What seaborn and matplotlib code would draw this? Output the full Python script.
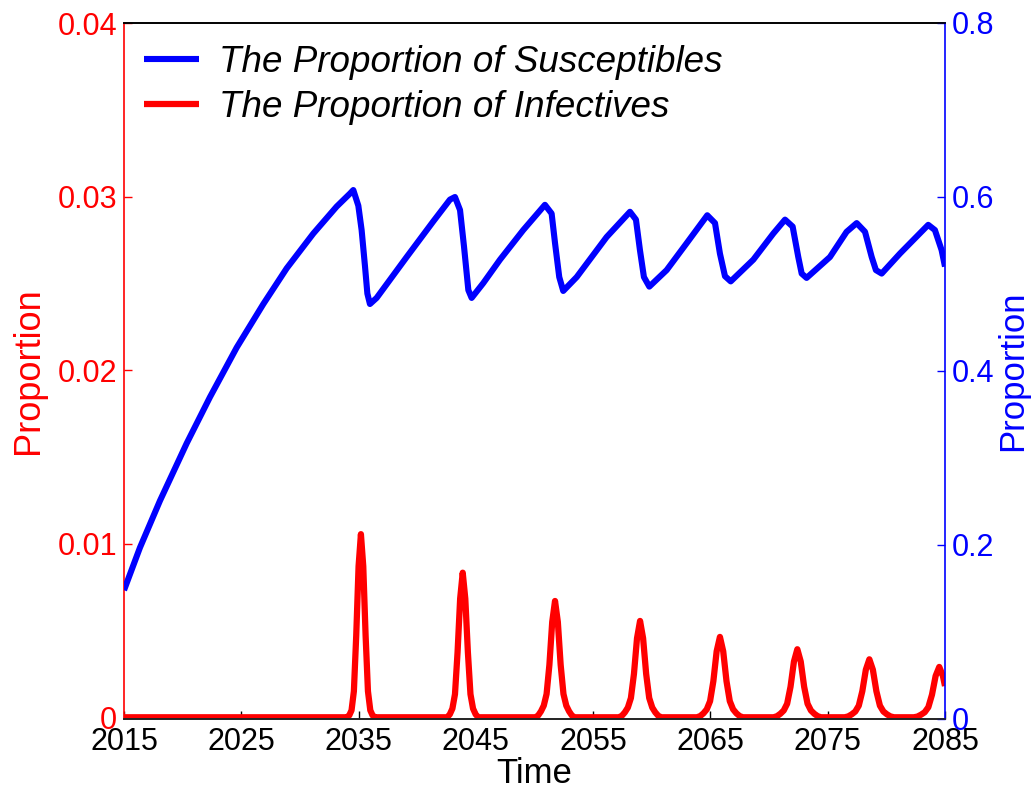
import matplotlib
matplotlib.use("Agg")
import matplotlib.pyplot as plt
from matplotlib import font_manager
import seaborn as sns
import pandas as pd

# ---------------- data ----------------
sus_t = [2015.0, 2016.36, 2018.07, 2020.35, 2022.33, 2024.61, 2026.88, 2028.87, 2031.14, 2033.13,
         2034.27, 2034.55, 2034.98, 2035.26, 2035.55, 2035.75, 2035.97, 2036.54, 2039.1, 2041.37,
         2042.79, 2043.22, 2043.65, 2043.99, 2044.36, 2044.64, 2045.63, 2047.06, 2049.04, 2050.89,
         2051.46, 2051.75, 2052.11, 2052.45, 2053.6, 2056.15, 2058.14, 2058.65, 2058.99, 2059.33,
         2059.79, 2061.27, 2062.98, 2064.73, 2065.39, 2065.81, 2066.24, 2066.73, 2068.66, 2070.36,
         2071.36, 2072.01, 2072.49, 2072.78, 2073.2, 2075.19, 2076.61, 2077.47, 2078.18, 2078.75,
         2079.11, 2079.6, 2081.16, 2083.57, 2084.14, 2084.71, 2085.0]
sus_v = [0.148, 0.197, 0.251, 0.317, 0.370, 0.427, 0.477, 0.518, 0.558, 0.589,
         0.604, 0.608, 0.590, 0.562, 0.520, 0.489, 0.477, 0.484, 0.531, 0.572,
         0.597, 0.600, 0.585, 0.543, 0.493, 0.484, 0.501, 0.528, 0.562, 0.591,
         0.581, 0.547, 0.508, 0.492, 0.508, 0.554, 0.583, 0.574, 0.539, 0.508,
         0.497, 0.516, 0.547, 0.579, 0.570, 0.535, 0.509, 0.503, 0.528, 0.558,
         0.574, 0.566, 0.531, 0.512, 0.507, 0.531, 0.560, 0.570, 0.560, 0.531,
         0.516, 0.512, 0.535, 0.568, 0.562, 0.539, 0.520]

inf_t = [2015.0,
         2034.0, 2034.2, 2034.4, 2034.6, 2034.8, 2035.0, 2035.2, 2035.4, 2035.6, 2035.8, 2036.0, 2036.2, 2036.4,
         2042.56, 2042.78, 2043.0, 2043.22, 2043.44, 2043.66, 2043.88, 2044.10, 2044.32, 2044.54, 2044.76, 2044.98, 2045.20,
         2050.07, 2050.31, 2050.55, 2050.79, 2051.03, 2051.27, 2051.51, 2051.75, 2051.99, 2052.23, 2052.47, 2052.71, 2052.95, 2053.19, 2053.43,
         2057.18, 2057.44, 2057.70, 2057.96, 2058.22, 2058.48, 2058.74, 2059.0, 2059.26, 2059.52, 2059.78, 2060.04, 2060.30, 2060.56, 2060.82,
         2063.85, 2064.13, 2064.41, 2064.69, 2064.97, 2065.25, 2065.53, 2065.81, 2066.09, 2066.37, 2066.65, 2066.93, 2067.21, 2067.49, 2067.77,
         2070.38, 2070.67, 2070.96, 2071.25, 2071.54, 2071.83, 2072.12, 2072.41, 2072.70, 2072.99, 2073.28, 2073.57, 2073.86, 2074.15, 2074.44,
         2076.45, 2076.75, 2077.05, 2077.35, 2077.65, 2077.95, 2078.25, 2078.55, 2078.85, 2079.15, 2079.45, 2079.75, 2080.05, 2080.35, 2080.65,
         2082.34, 2082.65, 2082.96, 2083.27, 2083.58, 2083.89, 2084.20, 2084.51, 2084.82, 2085.0]
inf_v = [0.0,
         0, 0.0001, 0.0004, 0.0015, 0.0047, 0.0087, 0.01055, 0.0087, 0.0047, 0.0015, 0.0004, 0.0001, 0,
         0, 0.00017, 0.0005, 0.00133, 0.00375, 0.00683, 0.00833, 0.00683, 0.00375, 0.00133, 0.0005, 0.00017, 0,
         0, 0.0001, 0.00034, 0.00067, 0.00134, 0.00302, 0.00549, 0.0067, 0.00549, 0.00302, 0.00134, 0.00067, 0.00034, 0.0001, 0,
         0, 0.00008, 0.00028, 0.00056, 0.00111, 0.0025, 0.00455, 0.00555, 0.00455, 0.0025, 0.00111, 0.00056, 0.00028, 0.00008, 0,
         0, 0.00007, 0.00023, 0.00046, 0.00093, 0.00208, 0.0038, 0.00463, 0.0038, 0.00208, 0.00093, 0.00046, 0.00023, 0.00007, 0,
         0, 0.00006, 0.0002, 0.00039, 0.00078, 0.00176, 0.00321, 0.00392, 0.00321, 0.00176, 0.00078, 0.00039, 0.0002, 0.00006, 0,
         0, 0.00005, 0.00017, 0.00033, 0.00067, 0.0015, 0.00274, 0.00334, 0.00274, 0.0015, 0.00067, 0.00033, 0.00017, 0.00005, 0,
         0, 0.00004, 0.00015, 0.00029, 0.00058, 0.0013, 0.00238, 0.0029, 0.00238, 0.0018]

x_ticks = [2015, 2025, 2035, 2045, 2055, 2065, 2075, 2085]
left_ticks = [0, 0.01, 0.02, 0.03, 0.04]
left_ticklabels = ["0", "0.01", "0.02", "0.03", "0.04"]
right_ticks = [0, 0.2, 0.4, 0.6, 0.8]
right_ticklabels = ["0", "0.2", "0.4", "0.6", "0.8"]
labels = ["The Proportion of Susceptibles", "The Proportion of Infectives"]

# ---------------- style ----------------
sns.set_theme(style="white")
plt.rcParams["font.family"] = ["Liberation Sans", "DejaVu Sans"]
plt.rcParams["text.color"] = "black"

names = {f.name for f in font_manager.fontManager.ttflist}
if "Liberation Sans Narrow" in names:
    tick_family, tick_size = ["Liberation Sans Narrow", "Liberation Sans"], 26
else:
    tick_family, tick_size = ["Liberation Sans", "DejaVu Sans"], 22

RED = "#ff0000"
BLUE = "#0000ff"

fig = plt.figure(figsize=(10.32, 7.93), dpi=100)
ax = fig.add_axes([124 / 1032, 1 - 719 / 793, 821 / 1032, 696 / 793])
ax2 = ax.twinx()

df_inf = pd.DataFrame({"t": inf_t, "v": inf_v})
df_sus = pd.DataFrame({"t": sus_t, "v": sus_v})

sns.lineplot(data=df_inf, x="t", y="v", ax=ax, color=RED, linewidth=4.5,
             estimator=None, sort=False, legend=False)
sns.lineplot(data=df_sus, x="t", y="v", ax=ax2, color=BLUE, linewidth=4.4,
             estimator=None, sort=False, legend=False)
for ln in ax.get_lines() + ax2.get_lines():
    ln.set_solid_joinstyle("round")
    ln.set_solid_capstyle("butt")

ax.set_xlim(2015, 2085)
ax.set_ylim(-0.0001, 0.04)
ax2.set_ylim(0, 0.8)

ax.set_xticks(x_ticks)
ax.set_xticklabels([str(v) for v in x_ticks], family=tick_family, fontsize=tick_size, color="black")
ax.set_yticks(left_ticks)
ax.set_yticklabels(left_ticklabels, family=tick_family, fontsize=tick_size, color=RED)
ax2.set_yticks(right_ticks)
ax2.set_yticklabels(right_ticklabels, family=tick_family, fontsize=tick_size, color=BLUE)

ax.tick_params(axis="x", direction="in", length=6, width=1, colors="black", pad=6,
               bottom=True, top=False, labelcolor="black")
ax.tick_params(axis="y", direction="in", length=6, width=1, colors=RED, pad=5, left=True)
ax2.tick_params(axis="y", direction="in", length=6, width=1, colors=BLUE, pad=5, right=True)

ax.set_xlabel("Time", fontsize=25, color="black", labelpad=0)
ax.set_ylabel("Proportion", fontsize=26, color=RED, labelpad=8)
ax2.set_ylabel("Proportion", fontsize=25, color=BLUE, labelpad=1)

for a in (ax, ax2):
    a.set_facecolor("none")
    a.grid(False)
    a.spines["top"].set_color("black")
    a.spines["bottom"].set_color("#222222")
    for s in a.spines.values():
        s.set_linewidth(1.2)
ax.spines["left"].set_color(RED)
ax.spines["right"].set_visible(False)
ax2.spines["right"].set_color(BLUE)
ax2.spines["left"].set_visible(False)

h_inf = ax.get_lines()[0]
h_sus = ax2.get_lines()[0]
leg = ax2.legend(handles=[h_sus, h_inf], labels=labels, loc="upper left",
                 bbox_to_anchor=(0.024, 0.969), frameon=False, borderpad=0, borderaxespad=0,
                 handlelength=1.5, handletextpad=0.55, labelspacing=0.29,
                 prop={"family": ["Liberation Sans", "DejaVu Sans"], "style": "italic", "size": 26.5})
for txt in leg.get_texts():
    txt.set_color("black")

fig.savefig("out.png", dpi=100)
